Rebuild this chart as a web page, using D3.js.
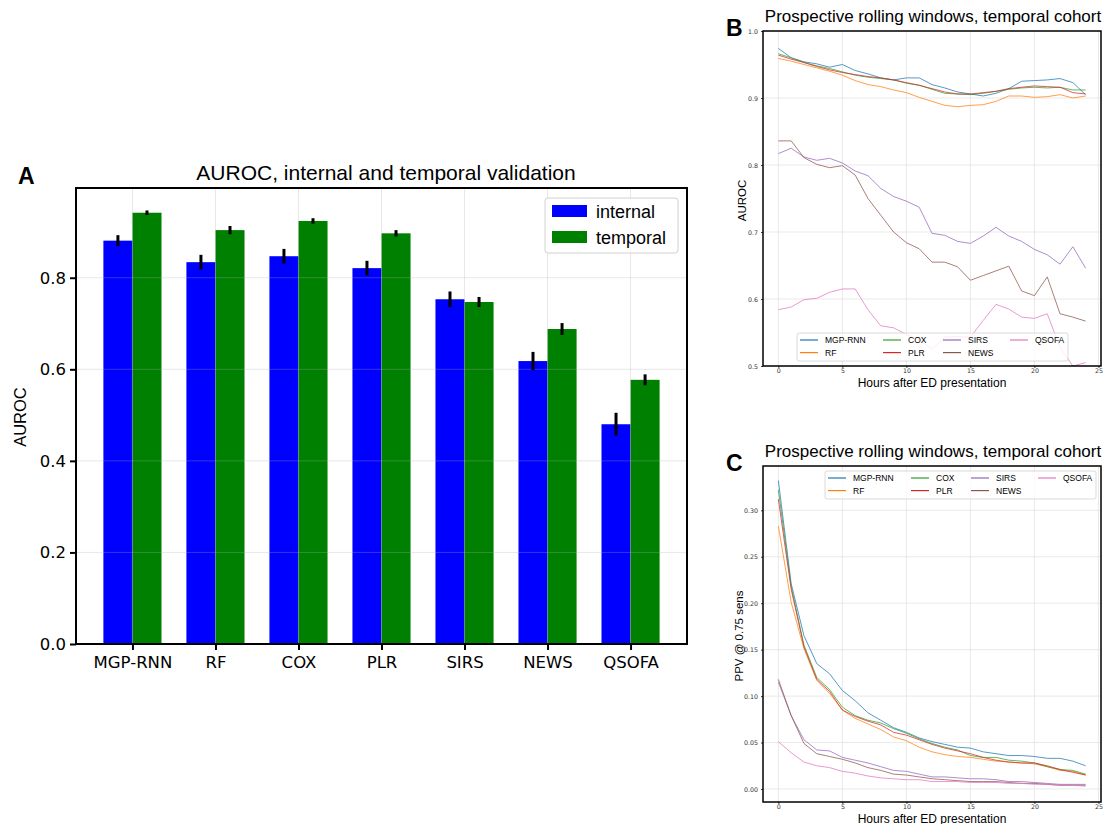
<!DOCTYPE html>
<html>
<head>
<meta charset="utf-8">
<script src="https://cdn.jsdelivr.net/npm/d3@7"></script>
<style>
  body { margin: 0; background: #fff; }
  svg { display: block; }
  .title { font-family: 'Liberation Sans', Arial, sans-serif; fill: #000; }
  .tick text { font-family: 'DejaVu Sans', sans-serif; }
</style>
</head>
<body>
<svg id="fig" width="1109" height="824"></svg>
<script>
const models = ['MGP-RNN', 'RF', 'COX', 'PLR', 'SIRS', 'NEWS', 'QSOFA']
const modelColors = ['#1f77b4', '#ff7f0e', '#2ca02c', '#d62728', '#9467bd', '#8c564b', '#e377c2']

// panel A: AUROC with error bars
const internalAuc = [0.881, 0.834, 0.847, 0.821, 0.753, 0.618, 0.480]
const internalErr = [0.012, 0.016, 0.016, 0.016, 0.017, 0.020, 0.025]
const temporalAuc = [0.942, 0.904, 0.924, 0.897, 0.747, 0.688, 0.577]
const temporalErr = [0.005, 0.009, 0.006, 0.007, 0.011, 0.013, 0.012]
const aurocTicks = [0.0, 0.2, 0.4, 0.6, 0.8]

// panels B and C: rolling windows
const hours = [0, 1, 2, 3, 4, 5, 6, 7, 8, 9, 10, 11, 12, 13, 14, 15, 16, 17, 18, 19, 20, 21, 22, 23, 24]
const hourTicks = [0, 5, 10, 15, 20, 25]

const aucMgpRnn = [0.974, 0.960, 0.954, 0.951, 0.946, 0.950, 0.941, 0.936, 0.930, 0.927, 0.930, 0.930, 0.920, 0.915, 0.909, 0.906, 0.903, 0.907, 0.914, 0.925, 0.926, 0.927, 0.929, 0.923, 0.905]
const aucRf = [0.959, 0.955, 0.950, 0.945, 0.940, 0.934, 0.926, 0.920, 0.917, 0.912, 0.908, 0.901, 0.895, 0.889, 0.887, 0.889, 0.890, 0.895, 0.903, 0.903, 0.901, 0.902, 0.905, 0.900, 0.903]
const aucCox = [0.966, 0.960, 0.953, 0.948, 0.944, 0.939, 0.934, 0.931, 0.929, 0.927, 0.922, 0.919, 0.913, 0.907, 0.906, 0.905, 0.907, 0.910, 0.913, 0.915, 0.916, 0.915, 0.916, 0.912, 0.912]
const aucPlr = [0.964, 0.958, 0.953, 0.947, 0.942, 0.938, 0.935, 0.932, 0.930, 0.927, 0.923, 0.919, 0.914, 0.909, 0.906, 0.906, 0.908, 0.910, 0.914, 0.916, 0.918, 0.917, 0.916, 0.908, 0.906]
const aucSirs = [0.817, 0.825, 0.812, 0.807, 0.810, 0.803, 0.791, 0.784, 0.765, 0.753, 0.746, 0.737, 0.698, 0.695, 0.686, 0.683, 0.694, 0.707, 0.694, 0.686, 0.674, 0.666, 0.652, 0.678, 0.646]
const aucNews = [0.836, 0.836, 0.811, 0.801, 0.796, 0.799, 0.785, 0.750, 0.725, 0.700, 0.684, 0.675, 0.655, 0.655, 0.648, 0.628, 0.635, 0.642, 0.649, 0.612, 0.605, 0.633, 0.578, 0.573, 0.567]
const aucQsofa = [0.584, 0.588, 0.599, 0.601, 0.610, 0.615, 0.615, 0.584, 0.560, 0.557, 0.547, 0.539, 0.525, 0.543, 0.544, 0.543, 0.568, 0.592, 0.585, 0.573, 0.571, 0.578, 0.528, 0.500, 0.505]
const aucTicks = [0.5, 0.6, 0.7, 0.8, 0.9, 1.0]

const ppvMgpRnn = [0.332, 0.221, 0.165, 0.135, 0.124, 0.106, 0.095, 0.082, 0.074, 0.066, 0.061, 0.055, 0.051, 0.048, 0.045, 0.044, 0.040, 0.038, 0.036, 0.036, 0.035, 0.033, 0.033, 0.030, 0.025]
const ppvRf = [0.283, 0.201, 0.151, 0.117, 0.103, 0.085, 0.076, 0.070, 0.064, 0.056, 0.052, 0.045, 0.040, 0.037, 0.035, 0.034, 0.032, 0.030, 0.029, 0.028, 0.027, 0.024, 0.020, 0.019, 0.015]
const ppvCox = [0.322, 0.218, 0.155, 0.120, 0.107, 0.088, 0.079, 0.074, 0.071, 0.065, 0.060, 0.054, 0.049, 0.045, 0.042, 0.036, 0.034, 0.034, 0.031, 0.030, 0.028, 0.024, 0.021, 0.020, 0.016]
const ppvPlr = [0.312, 0.215, 0.153, 0.118, 0.105, 0.085, 0.078, 0.073, 0.069, 0.061, 0.058, 0.053, 0.048, 0.044, 0.041, 0.038, 0.034, 0.031, 0.029, 0.028, 0.028, 0.025, 0.021, 0.018, 0.015]
const ppvSirs = [0.115, 0.079, 0.053, 0.042, 0.041, 0.034, 0.031, 0.028, 0.024, 0.020, 0.019, 0.016, 0.013, 0.013, 0.012, 0.011, 0.011, 0.010, 0.008, 0.008, 0.007, 0.006, 0.005, 0.005, 0.005]
const ppvNews = [0.118, 0.079, 0.049, 0.038, 0.035, 0.032, 0.028, 0.023, 0.020, 0.016, 0.015, 0.013, 0.011, 0.010, 0.009, 0.008, 0.008, 0.008, 0.007, 0.006, 0.006, 0.005, 0.004, 0.004, 0.004]
const ppvQsofa = [0.051, 0.039, 0.029, 0.025, 0.023, 0.019, 0.017, 0.014, 0.012, 0.011, 0.010, 0.010, 0.008, 0.008, 0.008, 0.007, 0.007, 0.007, 0.006, 0.006, 0.005, 0.005, 0.004, 0.004, 0.003]
const ppvTicks = [0.00, 0.05, 0.10, 0.15, 0.20, 0.25, 0.30]

const svg = d3.select('#fig')

const addText = (x, y, str, size, opts = {}) => {
  const t = svg.append('text')
    .attr('class', 'title')
    .attr('x', x)
    .attr('y', y)
    .attr('font-size', size)
    .attr('text-anchor', opts.anchor || 'middle')
    .attr('font-weight', opts.bold ? 'bold' : 'normal')
    .text(str)
  if (opts.rotate) t.attr('transform', `rotate(-90,${x},${y})`)
  return t
}

// ---------- panel A ----------
const drawBars = () => {
  const left = 76, right = 687, top = 188, bottom = 644
  const barW = 0.35
  const x = d3.scaleLinear().domain([-0.68, models.length - 1 + 0.68]).range([left, right])
  const y = d3.scaleLinear().domain([0, 0.996]).range([bottom, top])
  const g = svg.append('g')

  const groups = models.map((m, i) => ({
    i,
    internal: internalAuc[i], internalErr: internalErr[i],
    temporal: temporalAuc[i], temporalErr: temporalErr[i]
  }))

  g.selectAll('rect.int').data(groups).enter().append('rect')
    .attr('x', d => x(d.i - barW))
    .attr('width', d => x(d.i) - x(d.i - barW))
    .attr('y', d => y(d.internal))
    .attr('height', d => y(0) - y(d.internal))
    .attr('fill', '#0000ff')

  g.selectAll('rect.tmp').data(groups).enter().append('rect')
    .attr('x', d => x(d.i))
    .attr('width', d => x(d.i + barW) - x(d.i))
    .attr('y', d => y(d.temporal))
    .attr('height', d => y(0) - y(d.temporal))
    .attr('fill', '#008000')

  // grid sits above the bars, faint
  const grid = g.append('g').attr('stroke', '#b0b0b0').attr('stroke-opacity', 0.3).attr('stroke-width', 1)
  aurocTicks.forEach(v => grid.append('line').attr('x1', left).attr('x2', right).attr('y1', y(v)).attr('y2', y(v)))
  models.forEach((m, i) => grid.append('line').attr('x1', x(i)).attr('x2', x(i)).attr('y1', top).attr('y2', bottom))

  // error bars
  g.selectAll('line.eint').data(groups).enter().append('line')
    .attr('x1', d => x(d.i - barW / 2)).attr('x2', d => x(d.i - barW / 2))
    .attr('y1', d => y(d.internal - d.internalErr)).attr('y2', d => y(d.internal + d.internalErr))
    .attr('stroke', '#000').attr('stroke-width', 3)
  g.selectAll('line.etmp').data(groups).enter().append('line')
    .attr('x1', d => x(d.i + barW / 2)).attr('x2', d => x(d.i + barW / 2))
    .attr('y1', d => y(d.temporal - d.temporalErr)).attr('y2', d => y(d.temporal + d.temporalErr))
    .attr('stroke', '#000').attr('stroke-width', 3)

  const yAxis = d3.axisLeft(y).tickValues(aurocTicks).tickFormat(d3.format('.1f')).tickSize(6).tickPadding(4)
  const gy = g.append('g').attr('transform', `translate(${left},0)`).call(yAxis)
  gy.select('.domain').remove()
  gy.selectAll('.tick line').attr('stroke-width', 2)
  gy.selectAll('.tick text').attr('font-size', 16.5).attr('fill', '#000')

  const xAxis = d3.axisBottom(x).tickValues(models.map((m, i) => i)).tickFormat(i => models[i]).tickSize(6).tickPadding(6)
  const gx = g.append('g').attr('transform', `translate(0,${bottom})`).call(xAxis)
  gx.select('.domain').remove()
  gx.selectAll('.tick line').attr('stroke-width', 2)
  gx.selectAll('.tick text').attr('font-size', 16.5).attr('fill', '#000')

  g.append('rect').attr('x', left).attr('y', top).attr('width', right - left).attr('height', bottom - top)
    .attr('fill', 'none').attr('stroke', '#000').attr('stroke-width', 2)

  // legend
  const lg = g.append('g').attr('transform', 'translate(545,198)')
  lg.append('rect').attr('width', 133).attr('height', 55).attr('rx', 3)
    .attr('fill', '#fff').attr('fill-opacity', 0.8).attr('stroke', '#d0d0d0')
  const entries = [['internal', '#0000ff'], ['temporal', '#008000']]
  entries.forEach(([label, col], k) => {
    lg.append('rect').attr('x', 7).attr('y', 7 + k * 26).attr('width', 35).attr('height', 12).attr('fill', col)
    lg.append('text').attr('class', 'title').attr('x', 51).attr('y', 20 + k * 26).attr('font-size', 18).text(label)
  })

  addText(386, 180, 'AUROC, internal and temporal validation', 21)
  addText(18, 184, 'A', 23, { anchor: 'start', bold: true })
  addText(26, 417, 'AUROC', 16.5, { rotate: true })
}

// ---------- panels B and C ----------
const drawLegend = (x0, y0) => {
  const lg = svg.append('g').attr('transform', `translate(${x0},${y0})`)
  lg.append('rect').attr('width', 271).attr('height', 28).attr('rx', 2)
    .attr('fill', '#fff').attr('fill-opacity', 0.8).attr('stroke', '#d0d0d0').attr('stroke-width', 0.8)
  const colX = [3, 86, 146, 213]
  models.forEach((m, i) => {
    const cx = colX[Math.floor(i / 2)]
    const cy = 7 + (i % 2) * 12.6
    lg.append('line').attr('x1', cx).attr('x2', cx + 18).attr('y1', cy).attr('y2', cy)
      .attr('stroke', modelColors[i]).attr('stroke-width', 1.2)
    lg.append('text').attr('class', 'title').attr('x', cx + 25).attr('y', cy + 3)
      .attr('font-size', 8.5).attr('fill', '#222').text(m)
  })
}

const drawLines = (opts) => {
  const { top, bottom, yDomain, ticks, fmt, series, ylabel, ylabelX, letter, legendPos } = opts
  const left = 763, right = 1101
  const x = d3.scaleLinear().domain([-1.2, 25.2]).range([left, right])
  const y = d3.scaleLinear().domain(yDomain).range([bottom, top])
  const g = svg.append('g')

  const grid = g.append('g').attr('stroke', '#e6e6e6').attr('stroke-width', 0.9)
  ticks.forEach(v => grid.append('line').attr('x1', left).attr('x2', right).attr('y1', y(v)).attr('y2', y(v)))
  hourTicks.forEach(v => grid.append('line').attr('x1', x(v)).attr('x2', x(v)).attr('y1', top).attr('y2', bottom))

  const line = d3.line().x((d, i) => x(hours[i])).y(d => y(d))
  series.forEach((s, i) => {
    g.append('path').attr('d', line(s)).attr('fill', 'none')
      .attr('stroke', modelColors[i]).attr('stroke-width', 1).attr('stroke-opacity', 0.75)
  })

  const yAxis = d3.axisLeft(y).tickValues(ticks).tickFormat(d3.format(fmt)).tickSize(2).tickPadding(3)
  const gy = g.append('g').attr('transform', `translate(${left},0)`).call(yAxis)
  gy.select('.domain').remove()
  gy.selectAll('.tick line').attr('stroke', '#444')
  gy.selectAll('.tick text').attr('font-size', 6.3).attr('fill', '#333')

  const xAxis = d3.axisBottom(x).tickValues(hourTicks).tickSize(2).tickPadding(1)
  const gx = g.append('g').attr('transform', `translate(0,${bottom})`).call(xAxis)
  gx.select('.domain').remove()
  gx.selectAll('.tick line').attr('stroke', '#444')
  gx.selectAll('.tick text').attr('font-size', 6.3).attr('fill', '#333')

  g.append('rect').attr('x', left).attr('y', top).attr('width', right - left).attr('height', bottom - top)
    .attr('fill', 'none').attr('stroke', '#000').attr('stroke-width', 1.5)

  drawLegend(legendPos[0], legendPos[1])

  addText(933, top - 9, 'Prospective rolling windows, temporal cohort', 17)
  addText(726, top + 5, letter, 23, { anchor: 'start', bold: true })
  addText(932, bottom + 20.5, 'Hours after ED presentation', 12)
  addText(ylabelX, (top + bottom) / 2 + 2, ylabel, 11.5, { rotate: true })
}

drawBars()

drawLines({
  top: 31, bottom: 366, yDomain: [0.5, 1.0], ticks: aucTicks, fmt: '.1f',
  series: [aucMgpRnn, aucRf, aucCox, aucPlr, aucSirs, aucNews, aucQsofa],
  ylabel: 'AUROC', ylabelX: 746, letter: 'B', legendPos: [797, 333]
})

drawLines({
  top: 466, bottom: 802, yDomain: [-0.014, 0.3477], ticks: ppvTicks, fmt: '.2f',
  series: [ppvMgpRnn, ppvRf, ppvCox, ppvPlr, ppvSirs, ppvNews, ppvQsofa],
  ylabel: 'PPV @ 0.75 sens', ylabelX: 742.5, letter: 'C', legendPos: [825, 471]
})
</script>
</body>
</html>
